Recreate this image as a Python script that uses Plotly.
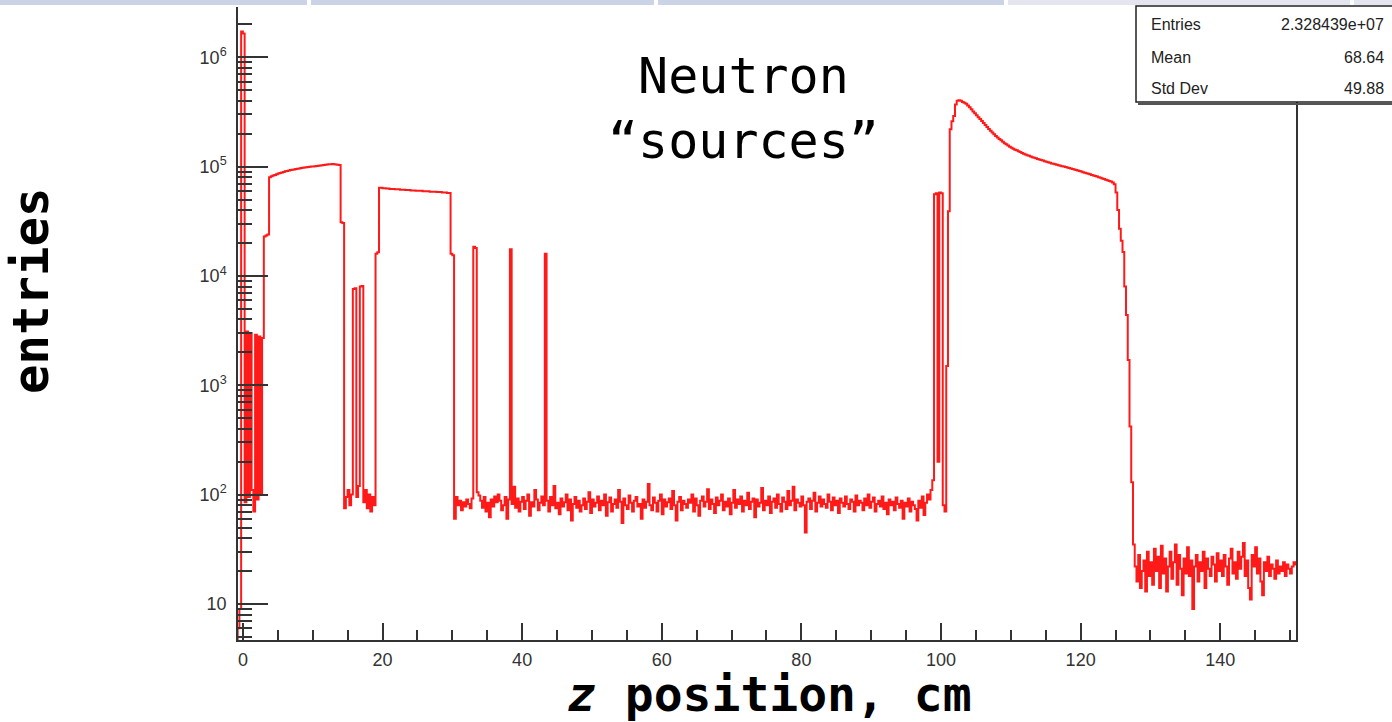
import plotly.graph_objects as go

# ---------------- data (bin contents, 0.25 cm bins starting at -0.75 cm) ----------------
BIN_START = -0.75
BIN_WIDTH = 0.25

seg_left = [6, 9, 1720000]
seg_near_zero = [1650000, 85, 3100, 95, 3000, 110, 70, 2900, 90, 2800, 100, 2700]
seg_step_a = [23000, 23500, 24000]
seg_plateau_a = [80000, 81500, 83000, 84000, 85000, 86500, 87500, 88500, 89500, 90500,
                 91000, 92000, 93000, 93500, 94000, 95000, 95500, 96000, 97000, 97500,
                 98000, 98500, 99000, 99500, 100000, 100500, 101000, 101500, 102000, 102500,
                 103000, 103500, 104000, 104500, 105000, 105000, 105500, 105000, 104500, 104000,
                 103500]
seg_step_b = [31000, 30500]
seg_noise_a = [75, 95, 110, 80, 100]
seg_spikes_a = [7600, 7700, 95, 120, 8000, 8100]
seg_noise_b = [85, 110, 75, 100, 70, 95, 80]
seg_step_c = [16000, 16500]
seg_plateau_b = [64000, 64000, 63500, 63500, 63000, 63000, 62500, 62500, 62500, 62000,
                 62000, 62000, 61500, 61500, 61500, 61000, 61000, 61000, 60500, 60500,
                 60500, 60000, 60000, 60000, 60000, 59500, 59500, 59500, 59500, 59000,
                 59000, 59000, 59000, 58500, 58500, 58500, 58000, 58000, 58000, 57500,
                 57500]
seg_step_d = [16000, 15500]
seg_noise_c = [60, 95, 80, 88, 72, 85, 78, 90, 82, 75, 92]
seg_spike_1 = [18500, 18000]
seg_noise_d = [105, 98, 88, 76, 95, 70, 84, 62, 90, 78, 96, 85, 100, 88, 72, 80, 95, 60, 90]
seg_spike_2 = [17500]
seg_noise_e = [82, 118, 76, 92, 70, 86, 95, 74, 88, 100, 64, 85, 78, 110, 90, 72, 84, 96, 80]
seg_spike_3 = [16000]
seg_noise_f = [88, 70, 95, 80, 120, 75, 84, 66, 92, 78,
               85, 100, 72, 90, 58, 82, 95, 76, 88, 70,
               80, 92, 74, 86, 105, 68, 90, 78, 84, 96,
               72, 88, 80, 100, 64, 85, 94, 70, 82, 90,
               76, 110, 86, 55, 92, 80, 74, 98, 84, 70,
               88, 95, 78, 82, 60, 90, 76, 86, 125, 80,
               72, 94, 84, 70, 88, 100, 66, 90, 78, 85,
               92, 74, 108, 80, 58, 86, 95, 72, 88, 82,
               76, 90, 84, 100, 70, 92, 80, 64, 88, 96,
               78, 86, 112, 74, 90, 82, 68, 94, 80, 88,
               100, 72, 86, 78, 92, 66, 84, 110, 76, 90,
               82, 96, 70, 88, 80, 104, 74, 86, 92, 62,
               90, 78, 84, 115, 72, 88, 80, 96, 68, 86,
               92, 76, 100, 82, 70, 94, 86, 74, 108, 80,
               88, 118, 72, 90, 84, 78, 96, 80, 45, 86,
               92, 74, 88, 104, 70, 84, 96, 78, 90, 82,
               76, 100, 86, 72, 94, 80, 88, 68, 92, 84,
               78, 96, 82, 74, 90, 86, 70, 98, 80, 88,
               84, 72, 92, 80, 100, 76, 86, 94, 70, 82,
               88, 78, 96, 74, 84, 66, 90, 80, 86, 72,
               94, 82, 76, 88, 60, 84, 78, 92, 70, 86,
               80, 74, 58, 88, 76, 96, 65, 84, 100, 90,
               110, 135]
seg_spikes_b = [56000, 57000, 200, 58000, 57000]
seg_rise = [80, 70, 1500, 39000, 220000, 260000, 290000, 370000, 400000, 405000, 400000]
seg_decline = [390000, 383000, 375000, 362000, 350000, 335000, 320000, 307000,
               295000, 283000, 272000, 261000, 250000, 240000, 230000, 221000,
               213000, 205000, 198000, 191000, 185000, 179000, 174000, 169000,
               164000, 160000, 156000, 152000, 149000, 146000, 143000, 141000,
               138000, 136000, 133000, 131000, 129000, 127000, 125500, 123500,
               122000, 120500, 119000, 117500, 116000, 115000, 113500, 112000,
               111000, 109500, 108500, 107000, 106000, 105000, 104000, 103000,
               102000, 101000, 100000, 99000, 98000, 97000, 96000, 95000,
               94000, 93000, 92000, 91000, 90000, 89000, 88000, 87000,
               86000, 85000, 84000, 83000, 82000, 81000, 80000, 79000,
               78000, 77000, 76000, 75000, 74000, 73000, 71500, 69000]
seg_drop = [58000, 40000, 27000, 21000, 16600, 8000, 4400, 1700, 420, 130, 35]
seg_noise_g = [22, 16, 28, 14, 20, 25, 13, 30, 18, 24,
               15, 32, 20, 27, 14, 34, 19, 26, 13, 22,
               30, 17, 24, 35, 15, 28, 21, 12, 26, 19,
               33, 18, 25, 9, 22, 28, 16, 24, 20, 30,
               14, 26, 21, 18, 27, 23, 16, 29, 20, 25,
               18, 28, 22, 15, 26, 32, 19, 24, 17, 30,
               21, 27, 36, 18, 25, 14, 11, 28, 22, 33,
               19, 26, 16, 12, 24, 20, 27, 18, 23, 21,
               17, 25, 19, 22, 20, 24, 18, 23, 21, 19,
               22, 24, 23]

x_tick_vals = [0, 20, 40, 60, 80, 100, 120, 140]
y_tick_vals = [10, 100, 1000, 10000, 100000, 1000000]
y_tick_text = ["10", "10<sup>2</sup>", "10<sup>3</sup>", "10<sup>4</sup>", "10<sup>5</sup>", "10<sup>6</sup>"]

stats_labels = ["Entries", "Mean", "Std Dev"]
stats_values = ["2.328439e+07", "68.64", "49.88"]

# ---------------- build histogram ----------------
counts = (seg_left + seg_near_zero + seg_step_a + seg_plateau_a + seg_step_b + seg_noise_a
          + seg_spikes_a + seg_noise_b + seg_step_c + seg_plateau_b + seg_step_d + seg_noise_c
          + seg_spike_1 + seg_noise_d + seg_spike_2 + seg_noise_e + seg_spike_3 + seg_noise_f
          + seg_spikes_b + seg_rise + seg_decline + seg_drop + seg_noise_g)
assert len(counts) == 607, len(counts)

edges = [BIN_START + BIN_WIDTH * i for i in range(len(counts) + 1)]
xs = [edges[0]] + edges
ys = [0.5] + counts + [counts[-1]]

fig = go.Figure()
fig.add_trace(go.Scatter(x=xs, y=ys, mode="lines", line=dict(color="#ff1a1a", width=2, shape="hv"),
                         hoverinfo="skip"))

# ---------------- layout geometry (pixels) ----------------
W, H = 1392, 722
L, R, T, B = 238, 1296, 7, 640
pw, ph = R - L, B - T


def px(xp):
    return (xp - L) / pw


def py(yp):
    return 1 - (yp - T) / ph


axis_col = "#333333"
tick_font = dict(family="Liberation Sans, Arial, sans-serif", size=18, color="#333333")

minor_y = []
for dec in [1, 10, 100, 1000, 10000, 100000, 1000000]:
    for m in range(2, 10):
        minor_y.append(m * dec)

fig.update_layout(
    width=W, height=H, autosize=False,
    margin=dict(l=L, r=W - R, t=T, b=H - B, pad=0),
    paper_bgcolor="white", plot_bgcolor="white", showlegend=False,
    xaxis=dict(range=[-0.7, 150.85], tickmode="array", tickvals=x_tick_vals,
               ticks="inside", ticklen=17, tickwidth=1.5, tickcolor=axis_col,
               showline=True, linecolor=axis_col, linewidth=1.5, showgrid=False, zeroline=False,
               tickfont=tick_font, ticklabelstandoff=3,
               minor=dict(dtick=5, tick0=0, ticks="inside", ticklen=10, tickwidth=1.5,
                          tickcolor=axis_col, showgrid=False)),
    yaxis=dict(type="log", range=[0.67, 6.46], tickmode="array", tickvals=y_tick_vals,
               ticktext=y_tick_text, ticks="inside", ticklen=30, tickwidth=1.5, tickcolor=axis_col,
               showline=True, mirror=True, linecolor=axis_col, linewidth=1.5,
               showgrid=False, zeroline=False, tickfont=tick_font, ticklabelstandoff=6,
               minor=dict(tickmode="array", tickvals=minor_y, ticks="inside", ticklen=14,
                          tickwidth=1.5, tickcolor=axis_col, showgrid=False)),
)

shapes = []
# top UI strip
strip = [(0, 307, "#cbd3e6"), (311, 654, "#cbd3e6"), (658, 1004, "#cbd3e6"),
         (1008, 1350, "#e3e6ee"), (1354, 1392, "#e3e6ee")]
for a, b, c in strip:
    shapes.append(dict(type="rect", xref="paper", yref="paper", x0=px(a), x1=px(b),
                       y0=py(5), y1=py(0), fillcolor=c, line=dict(width=0), layer="above"))
# stats box (with shadow)
shapes.append(dict(type="rect", xref="paper", yref="paper", x0=px(1138), x1=px(1400),
                   y0=py(104), y1=py(104), line=dict(color="#555", width=2), layer="above"))
shapes.append(dict(type="rect", xref="paper", yref="paper", x0=px(1136), x1=px(1400),
                   y0=py(102), y1=py(6), fillcolor="white", line=dict(color="#222", width=1.5),
                   layer="above"))
fig.update_layout(shapes=shapes)

ann = []
stat_font = dict(family="Liberation Sans, Arial, sans-serif", size=16, color="#222")
for i, (lab, val) in enumerate(zip(stats_labels, stats_values)):
    yy = [25, 57, 89][i]
    ann.append(dict(xref="paper", yref="paper", x=px(1149), y=py(yy), text=lab, showarrow=False,
                    xanchor="left", yanchor="middle", font=stat_font))
    ann.append(dict(xref="paper", yref="paper", x=px(1386), y=py(yy), text=val, showarrow=False,
                    xanchor="right", yanchor="middle", font=stat_font))

mono = "DejaVu Sans Mono, monospace"
ann.append(dict(xref="paper", yref="paper", x=px(743), y=py(108),
                text="Neutron<br>\u201csources\u201d", showarrow=False, xanchor="center",
                yanchor="middle", align="center", font=dict(family=mono, size=50, color="black")))
ann.append(dict(xref="paper", yref="paper", x=px(31), y=py(291), text="<b>entries</b>",
                textangle=-90, showarrow=False, xanchor="center", yanchor="middle",
                font=dict(family=mono, size=49, color="black")))
ann.append(dict(xref="paper", yref="paper", x=px(769), y=py(694),
                text="<b><i>z</i> position, cm</b>", showarrow=False, xanchor="center",
                yanchor="middle", font=dict(family=mono, size=48, color="black")))
fig.update_layout(annotations=ann)

fig.write_html("out.html", config={"displayModeBar": False},
               post_script="document.body.style.margin='0px';document.body.style.overflow='hidden';")
